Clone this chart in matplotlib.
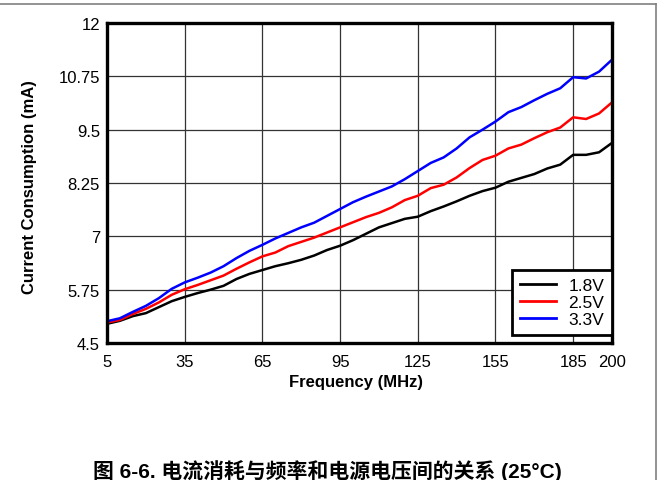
import matplotlib
matplotlib.use("Agg")
import matplotlib.pyplot as plt
from matplotlib.lines import Line2D

plt.rcParams['font.family'] = ['Liberation Sans', 'Noto Sans CJK SC', 'DejaVu Sans']

freq = [5, 10, 15, 20, 25, 30, 35, 40, 45, 50, 55, 60, 65, 70, 75, 80, 85, 90, 95, 100,
        105, 110, 115, 120, 125, 130, 135, 140, 145, 150, 155, 160, 165, 170, 175, 180,
        185, 190, 195, 200]

v18 = [4.95, 5.02, 5.13, 5.20, 5.34, 5.48, 5.58, 5.67, 5.75, 5.84, 6.00, 6.12, 6.21, 6.30,
       6.37, 6.45, 6.55, 6.68, 6.78, 6.91, 7.06, 7.21, 7.31, 7.41, 7.46, 7.59, 7.70, 7.82,
       7.95, 8.06, 8.14, 8.28, 8.37, 8.46, 8.59, 8.68, 8.91, 8.91, 8.97, 9.19]

v25 = [4.98, 5.04, 5.18, 5.30, 5.45, 5.63, 5.76, 5.86, 5.97, 6.08, 6.24, 6.39, 6.53, 6.62,
       6.77, 6.87, 6.97, 7.09, 7.21, 7.33, 7.45, 7.55, 7.68, 7.85, 7.95, 8.13, 8.21, 8.38,
       8.60, 8.79, 8.89, 9.06, 9.15, 9.30, 9.44, 9.55, 9.79, 9.75, 9.88, 10.14]

v33 = [5.01, 5.08, 5.23, 5.37, 5.55, 5.77, 5.92, 6.03, 6.15, 6.30, 6.49, 6.66, 6.80, 6.95,
       7.08, 7.21, 7.32, 7.48, 7.64, 7.80, 7.93, 8.05, 8.17, 8.34, 8.53, 8.72, 8.85, 9.06,
       9.32, 9.50, 9.69, 9.91, 10.03, 10.19, 10.34, 10.47, 10.73, 10.70, 10.86, 11.14]

series_labels = ['1.8V', '2.5V', '3.3V']
series_colors = ['#000000', '#ff0000', '#0000ff']

xticks = [5, 35, 65, 95, 125, 155, 185, 200]
yticks = [4.5, 5.75, 7, 8.25, 9.5, 10.75, 12]
ytick_labels = ['4.5', '5.75', '7', '8.25', '9.5', '10.75', '12']

caption = '图 6-6. 电流消耗与频率和电源电压间的关系 (25°C)'

fig = plt.figure(figsize=(6.65, 4.81), dpi=100)
ax = fig.add_axes([107/665, 1-344/481, 505/665, 320/481])

for vals, lab, col in zip([v18, v25, v33], series_labels, series_colors):
    ax.plot(freq, vals, color=col, lw=1.8, label=lab, solid_joinstyle='round')

ax.set_xlim(5, 200)
ax.set_ylim(4.5, 12)
ax.set_xticks(xticks)
ax.set_xticklabels([str(t) for t in xticks])
ax.set_yticks(yticks)
ax.set_yticklabels(ytick_labels)
ax.tick_params(axis='y', length=0, labelsize=12, pad=5)
ax.tick_params(axis='x', length=0, labelsize=12, pad=8)
ax.grid(True, color='#333333', lw=0.9)
ax.set_axisbelow(True)
for s in ax.spines.values():
    s.set_linewidth(2.4)
    s.set_color('black')

fig.text(356/665, 1-383/481, 'Frequency (MHz)', ha='center', va='center',
         fontsize=12, fontweight='bold')
fig.text(30/665, 1-187/481, 'Current Consumption (mA)', ha='center', va='center',
         rotation=90, fontsize=12, fontweight='bold')

leg = ax.legend(loc='lower right', bbox_to_anchor=(1.0, 8/320), fontsize=12.5,
                frameon=True, fancybox=False, edgecolor='black', handlelength=2.1,
                borderpad=0.45, labelspacing=0.12, handletextpad=0.7, borderaxespad=0.0)
leg.get_frame().set_linewidth(2.0)
leg.get_frame().set_alpha(1)
for h in leg.get_lines():
    h.set_linewidth(2.0)

fig.text(327/665, 1-471/481, caption, ha='center', va='center', fontsize=15,
         fontweight='bold', family=['Liberation Sans', 'Noto Sans CJK SC'])

# page frame lines
fig.add_artist(Line2D([0, 656/665], [1-5/481, 1-5/481], color='#808080', lw=1.2,
                      transform=fig.transFigure))
fig.add_artist(Line2D([656/665, 656/665], [1-5/481, 0], color='#808080', lw=1.2,
                      transform=fig.transFigure))

fig.savefig('out.png', dpi=100)
